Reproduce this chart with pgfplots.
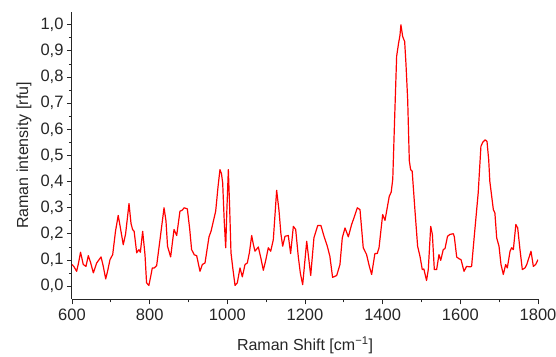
\documentclass[border=0pt]{standalone}
\usepackage{fontspec}
\setmainfont{Liberation Sans}
\usepackage{pgfplots}
\pgfplotsset{compat=1.18}
\begin{document}
\begin{tikzpicture}
\useasboundingbox (-72pt,-56.7pt) rectangle (484pt,299.3pt);
\begin{axis}[
  at={(0,0)}, anchor=south west,
  scale only axis,
  width=466pt, height=287.6pt,
  xmin=600, xmax=1800, ymin=-0.05, ymax=1.05,
  axis x line*=bottom, axis y line*=left,
  axis line style={black!85, line width=1pt, -},
  xtick={600,800,...,1800}, minor x tick num=1,
  ytick={0,0.1,...,1.0}, minor y tick num=1,
  tick align=outside,
  major tick length=5pt, minor tick length=3pt,
  every tick/.style={black!85, line width=0.9pt},
  tick label style={font=\fontsize{16.5}{18}\selectfont, text=black!85, /pgf/number format/assume math mode=true},
  xticklabel style={/pgf/number format/1000 sep={}, yshift=-1pt},
  yticklabel style={/pgf/number format/.cd, fixed, fixed zerofill, precision=1, use comma},
  label style={font=\fontsize{16}{18}\selectfont, text=black!85},
  xlabel={Raman Shift [cm\textsuperscript{−1}]},
  ylabel={Raman intensity [rfu]},
  xlabel style={at={(axis description cs:0.5,-0.159)}, anchor=center},
  ylabel style={at={(axis description cs:-0.103,0.5)}, anchor=center},
]
\addplot[red, line width=1.2pt, line join=round] coordinates {
(600,0.083) (605,0.075) (612,0.057) (617,0.09) (622,0.13) (629,0.083) (636,0.076) (642,0.117) (648,0.09) (655,0.051)
(663.6,0.089) (674.7,0.112) (680,0.08) (686.8,0.028) (692,0.06) (697.9,0.102) (704.8,0.121) (712,0.21) (719,0.271) (725,0.22)
(732,0.159) (738,0.2) (746.8,0.316) (752,0.24) (756,0.217) (760,0.21) (766.6,0.128) (772.5,0.14) (776,0.13) (782,0.21)
(788,0.12) (792,0.013) (798,0.003) (803,0.04) (806.8,0.07) (812,0.07) (818,0.079) (826.6,0.178) (837,0.30) (842,0.25)
(846,0.153) (854,0.112) (862.7,0.217) (869.6,0.194) (878,0.287) (883,0.29) (889,0.30) (897,0.296) (903,0.22) (908,0.14)
(915,0.12) (921,0.117) (929.6,0.057) (935.6,0.083) (942.5,0.089) (952.8,0.189) (958,0.21) (963.9,0.248) (970,0.287) (976,0.38)
(981,0.446) (985,0.43) (988,0.395) (992,0.25) (995.8,0.147) (999,0.3) (1002.6,0.446) (1006,0.3) (1009.4,0.128) (1014,0.07)
(1019.8,0.003) (1025.7,0.013) (1032.6,0.07) (1038.6,0.036) (1045.5,0.083) (1051.5,0.089) (1057,0.13) (1062.7,0.194) (1067,0.16) (1071.3,0.134)
(1079.8,0.15) (1086,0.11) (1092.7,0.061) (1099,0.1) (1105.5,0.147) (1111.7,0.134) (1118.4,0.178) (1127,0.367) (1133,0.29) (1138,0.2)
(1142.5,0.153) (1148.5,0.191) (1157,0.194) (1163,0.125) (1170,0.229) (1176,0.217) (1182.8,0.112) (1188,0.05) (1194,0.006) (1204.4,0.172)
(1214.7,0.041) (1223,0.185) (1232.7,0.232) (1241,0.232) (1249,0.191) (1257.4,0.153) (1264,0.115) (1271,0.034) (1281.6,0.041) (1290,0.083)
(1296,0.185) (1303,0.223) (1311.6,0.189) (1320,0.236) (1326,0.261) (1334.7,0.30) (1341.6,0.293) (1350,0.147) (1358.6,0.121) (1365,0.08)
(1371.6,0.045) (1380,0.125) (1386,0.125) (1390.6,0.147) (1400,0.274) (1406,0.252) (1417,0.344) (1422,0.36) (1426,0.41) (1431,0.65)
(1436,0.88) (1441,0.93) (1444.6,0.96) (1447,1.0) (1451.5,0.955) (1456.6,0.936) (1460,0.85) (1464.4,0.713) (1468.6,0.48) (1472,0.446)
(1476,0.44) (1483,0.293) (1490,0.153) (1496,0.115) (1502,0.064) (1506,0.066) (1513,0.022) (1517.5,0.064) (1523.7,0.229) (1528,0.198)
(1533,0.064) (1539,0.064) (1545,0.121) (1549.5,0.099) (1556,0.14) (1560.5,0.144) (1567,0.191) (1573,0.198) (1582,0.201) (1584.5,0.189)
(1590.6,0.112) (1596.6,0.105) (1601.7,0.102) (1609.5,0.057) (1616,0.076) (1625,0.074) (1629,0.076) (1637.8,0.223) (1646,0.357) (1653,0.535)
(1657.5,0.55) (1664,0.56) (1668.7,0.554) (1673,0.484) (1676,0.4) (1685,0.293) (1689,0.28) (1693.6,0.185) (1699.6,0.153) (1704.7,0.083)
(1710.7,0.045) (1716.7,0.083) (1721,0.07) (1728,0.134) (1732,0.147) (1736.5,0.14) (1743,0.236) (1747.7,0.223) (1753.6,0.14) (1759.6,0.064)
(1766.5,0.07) (1771,0.083) (1782,0.134) (1788,0.076) (1794,0.083) (1800,0.102)
};
\end{axis}
\end{tikzpicture}
\end{document}
